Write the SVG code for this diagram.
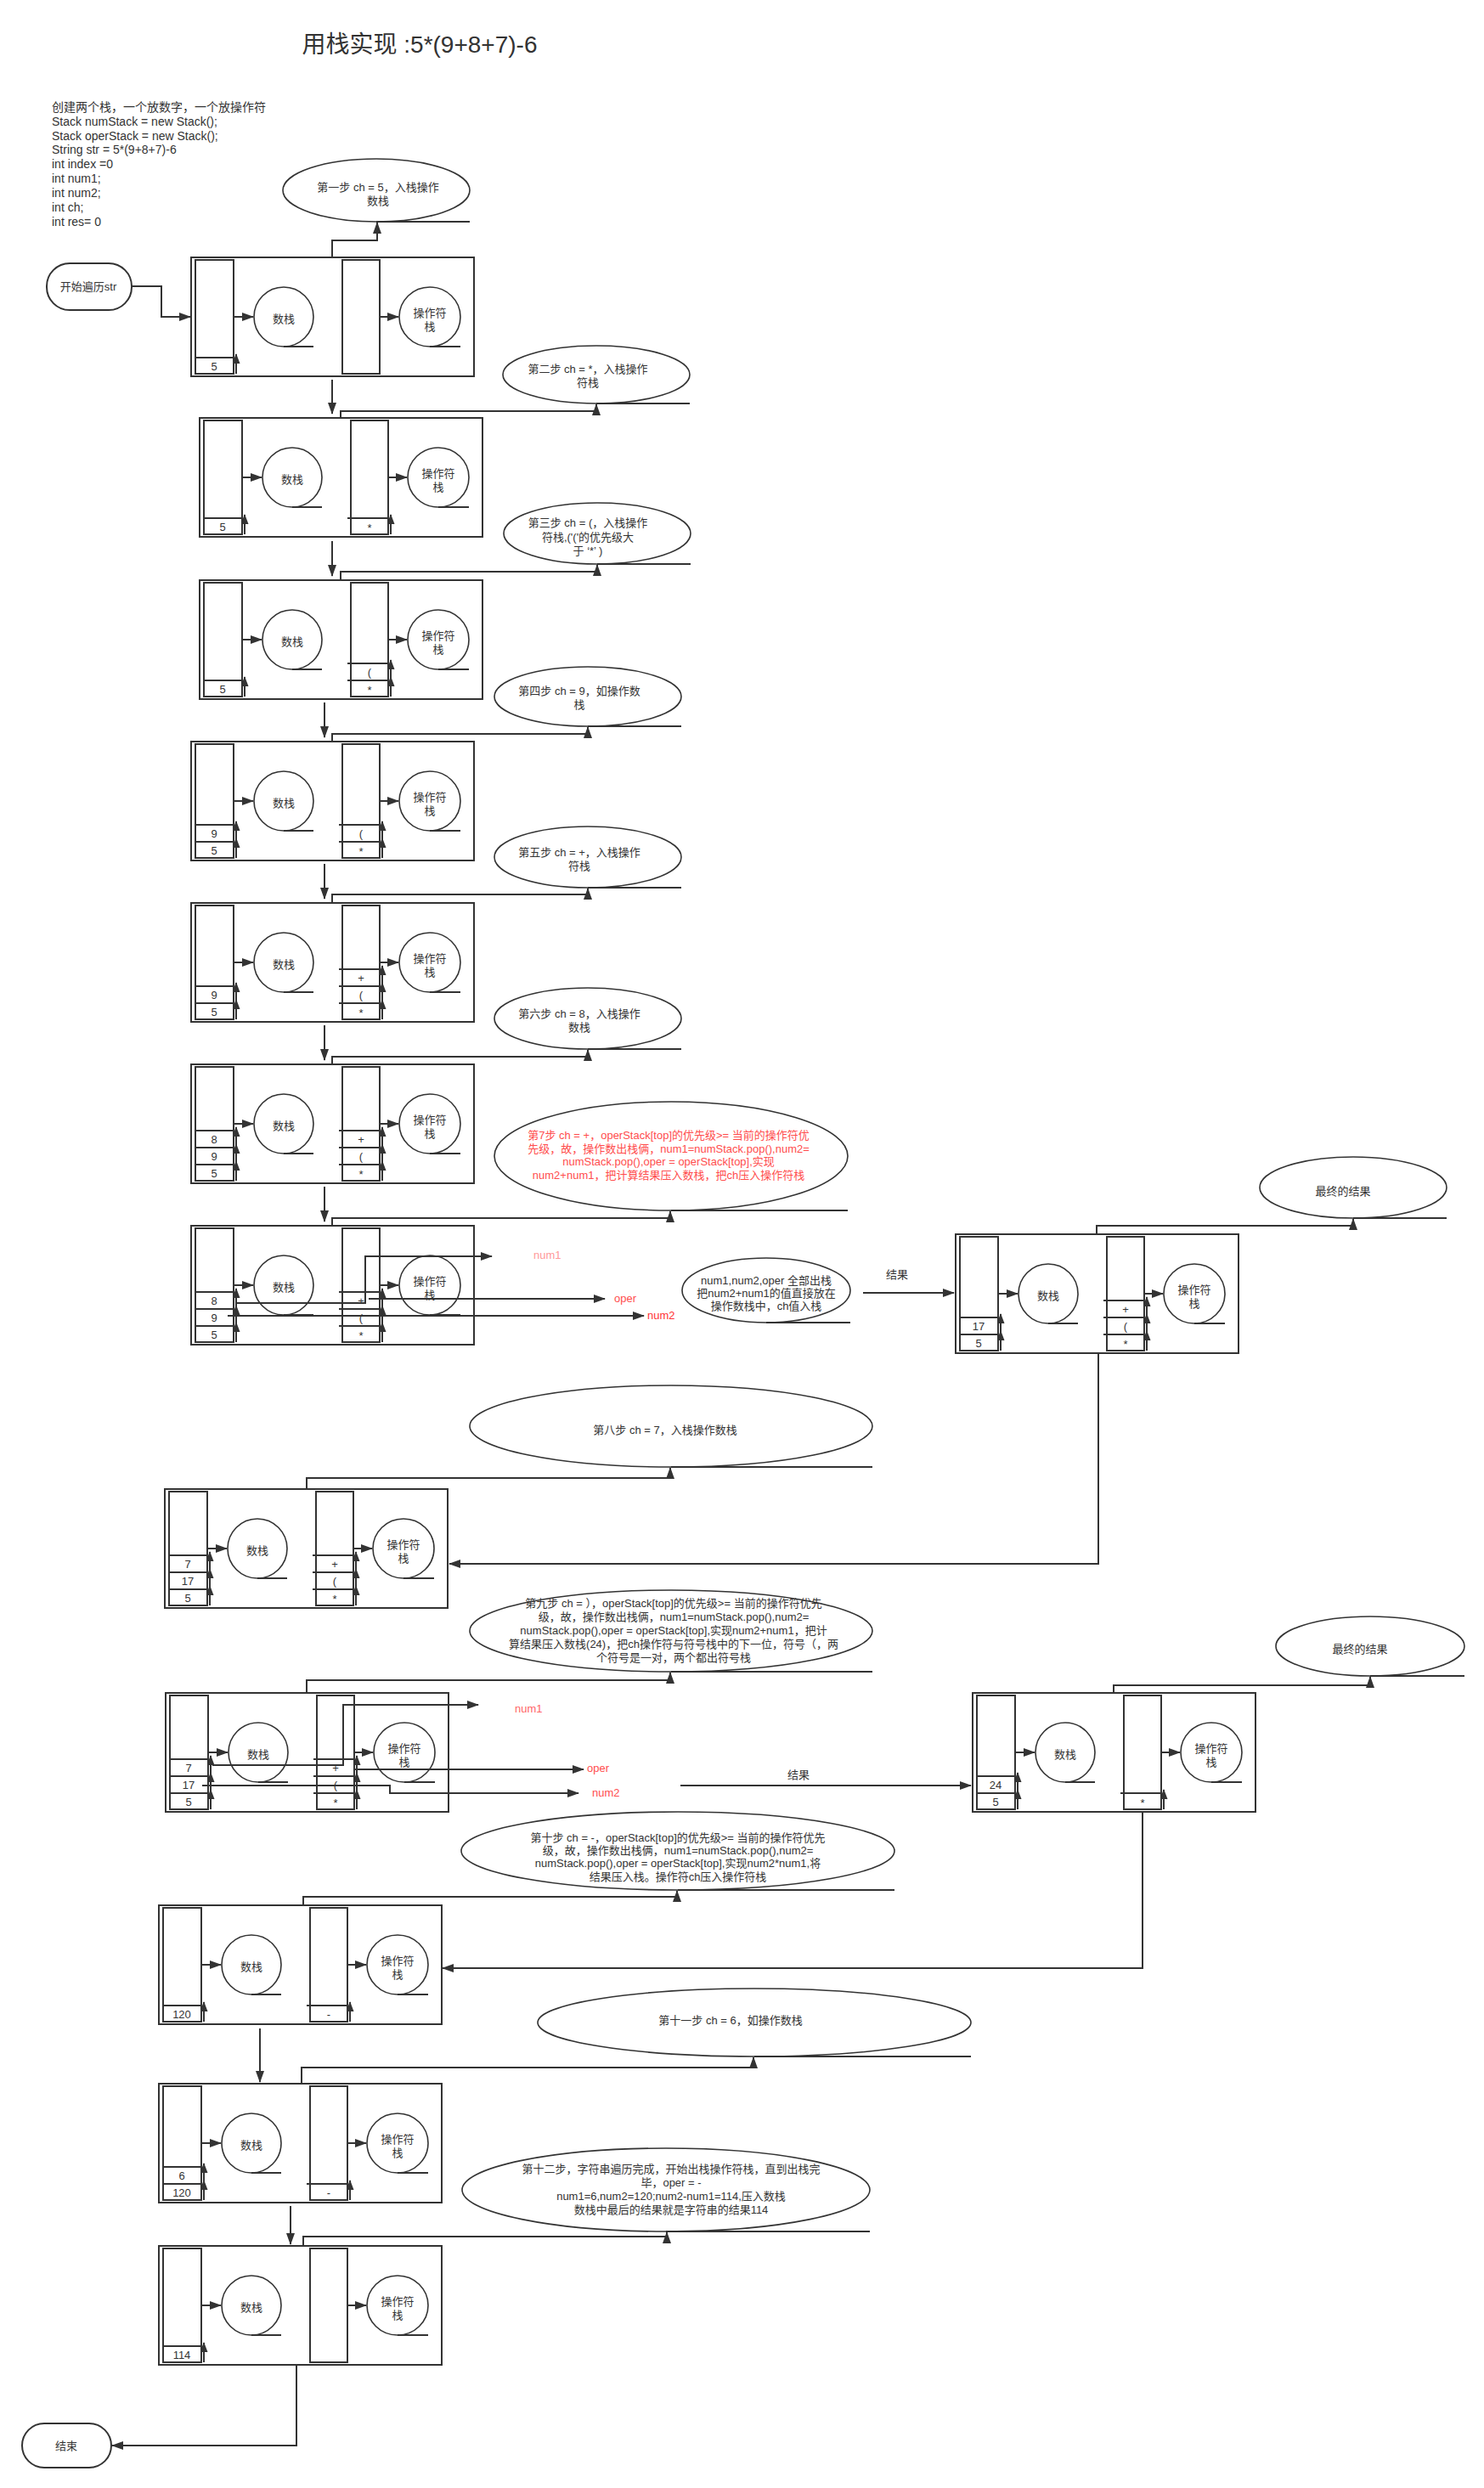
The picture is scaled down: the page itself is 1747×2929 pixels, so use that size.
<svg xmlns="http://www.w3.org/2000/svg" xmlns:xlink="http://www.w3.org/1999/xlink" width="1747" height="2929" viewBox="0 0 1747 2929">
<style>
.b{fill:#fff;stroke:#333;stroke-width:2}
.c{fill:#fff;stroke:#333;stroke-width:2}
.e{fill:#fff;stroke:#333;stroke-width:1.6}
.l{fill:none;stroke:#333;stroke-width:2}
.t{font-family:"Liberation Sans","Noto Sans CJK SC",sans-serif;font-size:13px;fill:#333;text-anchor:middle;dominant-baseline:central}
.ts{font-family:"Liberation Sans","Noto Sans CJK SC",sans-serif;font-size:13px;fill:#333;text-anchor:start;dominant-baseline:central}
.code{font-family:"Liberation Sans","Noto Sans CJK SC",sans-serif;font-size:14px;fill:#333;dominant-baseline:central}
.red{fill:#FF4D4D}
</style>
<defs>
<marker id="ah" markerUnits="userSpaceOnUse" markerWidth="14" markerHeight="10" refX="13" refY="5" orient="auto"><path d="M0,0 L14,5 L0,10 z" fill="#333"/></marker>
<marker id="as" markerUnits="userSpaceOnUse" markerWidth="12" markerHeight="9" refX="11" refY="4.5" orient="auto"><path d="M0,0 L12,4.5 L0,9 z" fill="#333"/></marker>
<g id="frame">
<rect class="b" x="0" y="0" width="333" height="140"/>
<rect class="c" x="5" y="3" width="45" height="134"/>
<rect class="c" x="178" y="3" width="44" height="134"/>
<path class="l" d="M50,70 H73" marker-end="url(#ah)"/>
<path class="l" d="M222,70 H244" marker-end="url(#ah)"/>
<ellipse class="e" cx="109" cy="70" rx="35" ry="35"/>
<path class="l" d="M109,105 H144"/>
<ellipse class="e" cx="281" cy="70" rx="36" ry="35"/>
<path class="l" d="M281,105 H317"/>
<text class="t" x="109" y="72">数栈</text>
<text class="t" x="281" y="65">操作符</text>
<text class="t" x="281" y="81">栈</text>
</g>
<g id="n0"><rect class="c" x="5" y="118" width="45" height="19"/><path class="l" d="M53,137 V114" marker-end="url(#as)"/></g>
<g id="n1"><rect class="c" x="5" y="98" width="45" height="20"/><path class="l" d="M53,118 V94" marker-end="url(#as)"/></g>
<g id="n2"><rect class="c" x="5" y="78" width="45" height="20"/><path class="l" d="M53,98 V74" marker-end="url(#as)"/></g>
<g id="o0"><rect class="c" x="178" y="118" width="44" height="19"/><path class="l" d="M174,118 H178"/><path class="l" d="M225,137 V114" marker-end="url(#as)"/></g>
<g id="o1"><rect class="c" x="178" y="98" width="44" height="20"/><path class="l" d="M174,98 H178"/><path class="l" d="M225,118 V94" marker-end="url(#as)"/></g>
<g id="o2"><rect class="c" x="178" y="78" width="44" height="20"/><path class="l" d="M174,78 H178"/><path class="l" d="M225,98 V74" marker-end="url(#as)"/></g>
</defs>
<rect x="0" y="0" width="1747" height="2929" fill="#fff"/>

<g id="title"><text class="t" x="494" y="52" style="font-size:28px">用栈实现 :5*(9+8+7)-6</text></g>
<g id="code">
<text class="code" x="61" y="126">创建两个栈，一个放数字，一个放操作符</text>
<text class="code" x="61" y="143">Stack numStack = new Stack();</text>
<text class="code" x="61" y="160">Stack operStack = new Stack();</text>
<text class="code" x="61" y="176">String str = 5*(9+8+7)-6</text>
<text class="code" x="61" y="193">int index =0</text>
<text class="code" x="61" y="210">int num1;</text>
<text class="code" x="61" y="227">int num2;</text>
<text class="code" x="61" y="244">int ch;</text>
<text class="code" x="61" y="261">int res= 0</text>
</g>

<g id="start"><rect class="b" x="55" y="310" width="100" height="55" rx="27" ry="27"/><text class="t" x="104" y="337">开始遍历str</text></g>
<g id="end"><rect class="b" x="26" y="2853" width="105" height="52" rx="26" ry="26"/><text class="t" x="78" y="2879">结束</text></g>

<g id="step1"><ellipse class="e" cx="443" cy="224" rx="110" ry="37"/><path class="l" d="M443,261 H553"/><text class="t" x="445" y="220">第一步 ch = 5，入栈操作</text><text class="t" x="445" y="236">数栈</text></g>
<g id="step2"><ellipse class="e" cx="702" cy="441" rx="110" ry="34"/><path class="l" d="M702,475 H812"/><text class="t" x="692" y="434">第二步 ch = *，入栈操作</text><text class="t" x="692" y="450">符栈</text></g>
<g id="step3"><ellipse class="e" cx="703" cy="628" rx="110" ry="36"/><path class="l" d="M703,664 H813"/><text class="t" x="692" y="615">第三步 ch = (，入栈操作</text><text class="t" x="692" y="632">符栈,('('的优先级大</text><text class="t" x="692" y="648">于  ‘*’  )</text></g>
<g id="step4"><ellipse class="e" cx="692" cy="820" rx="110" ry="35"/><path class="l" d="M692,855 H802"/><text class="t" x="682" y="813">第四步 ch = 9，如操作数</text><text class="t" x="682" y="829">栈</text></g>
<g id="step5"><ellipse class="e" cx="692" cy="1009" rx="110" ry="36"/><path class="l" d="M692,1045 H802"/><text class="t" x="682" y="1003">第五步 ch = +，入栈操作</text><text class="t" x="682" y="1019">符栈</text></g>
<g id="step6"><ellipse class="e" cx="692" cy="1199" rx="110" ry="36"/><path class="l" d="M692,1235 H802"/><text class="t" x="682" y="1193">第六步 ch = 8，入栈操作</text><text class="t" x="682" y="1209">数栈</text></g>
<g id="step7"><ellipse class="e" cx="790" cy="1361" rx="208" ry="64"/><path class="l" d="M790,1425 H998"/>
<text class="t red" x="787" y="1336">第7步 ch = +，operStack[top]的优先级&gt;= 当前的操作符优</text>
<text class="t red" x="787" y="1352">先级，故，操作数出栈俩，num1=numStack.pop(),num2=</text>
<text class="t red" x="787" y="1367">numStack.pop(),oper = operStack[top],实现</text>
<text class="t red" x="787" y="1383">num2+num1，把计算结果压入数栈，把ch压入操作符栈</text></g>
<g id="explain"><ellipse class="e" cx="902" cy="1519" rx="99" ry="38"/><path class="l" d="M902,1557 H1001"/><text class="t" x="902" y="1507">num1,num2,oper 全部出栈</text><text class="t" x="902" y="1522">把num2+num1的值直接放在</text><text class="t" x="902" y="1537">操作数栈中，ch值入栈</text></g>
<g id="final1"><ellipse class="e" cx="1593" cy="1398" rx="110" ry="36"/><path class="l" d="M1593,1434 H1703"/><text class="t" x="1581" y="1402">最终的结果</text></g>
<g id="step8"><ellipse class="e" cx="790" cy="1679" rx="237" ry="48"/><path class="l" d="M790,1727 H1027"/><text class="t" x="783" y="1683">第八步 ch = 7，入栈操作数栈</text></g>
<g id="step9"><ellipse class="e" cx="790" cy="1920" rx="237" ry="48"/><path class="l" d="M790,1968 H1027"/>
<text class="t" x="793" y="1887">第九步 ch = ），operStack[top]的优先级&gt;= 当前的操作符优先</text>
<text class="t" x="793" y="1903">级，故，操作数出栈俩，num1=numStack.pop(),num2=</text>
<text class="t" x="793" y="1919">numStack.pop(),oper = operStack[top],实现num2+num1，把计</text>
<text class="t" x="793" y="1935">算结果压入数栈(24)，把ch操作符与符号栈中的下一位，符号（，两</text>
<text class="t" x="793" y="1951">个符号是一对，两个都出符号栈</text></g>
<g id="final2"><ellipse class="e" cx="1613" cy="1938" rx="111" ry="35"/><path class="l" d="M1613,1973 H1724"/><text class="t" x="1601" y="1941">最终的结果</text></g>
<g id="step10"><ellipse class="e" cx="798" cy="2179" rx="255" ry="46"/><path class="l" d="M798,2225 H1053"/>
<text class="t" x="798" y="2163">第十步 ch = -，operStack[top]的优先级&gt;= 当前的操作符优先</text>
<text class="t" x="798" y="2178">级，故，操作数出栈俩，num1=numStack.pop(),num2=</text>
<text class="t" x="798" y="2193">numStack.pop(),oper = operStack[top],实现num2*num1,将</text>
<text class="t" x="798" y="2209">结果压入栈。操作符ch压入操作符栈</text></g>
<g id="step11"><ellipse class="e" cx="888" cy="2381" rx="255" ry="40"/><path class="l" d="M888,2421 H1143"/><text class="t" x="860" y="2378">第十一步 ch = 6，如操作数栈</text></g>
<g id="step12"><ellipse class="e" cx="784" cy="2578" rx="240" ry="49"/><path class="l" d="M784,2627 H1024"/>
<text class="t" x="790" y="2553">第十二步，字符串遍历完成，开始出栈操作符栈，直到出栈完</text>
<text class="t" x="790" y="2569">毕，oper = -</text>
<text class="t" x="790" y="2585">num1=6,num2=120;num2-num1=114,压入数栈</text>
<text class="t" x="790" y="2601">数栈中最后的结果就是字符串的结果114</text></g>

<g id="box1" transform="translate(225,303)"><use xlink:href="#frame"/><use xlink:href="#n0"/><text class="t" x="27" y="128">5</text></g>
<g id="box2" transform="translate(235,492)"><use xlink:href="#frame"/><use xlink:href="#n0"/><text class="t" x="27" y="128">5</text><use xlink:href="#o0"/><text class="t" x="200" y="129">*</text></g>
<g id="box3" transform="translate(235,683)"><use xlink:href="#frame"/><use xlink:href="#n0"/><text class="t" x="27" y="128">5</text><use xlink:href="#o0"/><text class="t" x="200" y="129">*</text><use xlink:href="#o1"/><text class="t" x="200" y="108">(</text></g>
<g id="box4" transform="translate(225,873)"><use xlink:href="#frame"/><use xlink:href="#n0"/><text class="t" x="27" y="128">5</text><use xlink:href="#n1"/><text class="t" x="27" y="108">9</text><use xlink:href="#o0"/><text class="t" x="200" y="129">*</text><use xlink:href="#o1"/><text class="t" x="200" y="108">(</text></g>
<g id="box5" transform="translate(225,1063)"><use xlink:href="#frame"/><use xlink:href="#n0"/><text class="t" x="27" y="128">5</text><use xlink:href="#n1"/><text class="t" x="27" y="108">9</text><use xlink:href="#o0"/><text class="t" x="200" y="129">*</text><use xlink:href="#o1"/><text class="t" x="200" y="108">(</text><use xlink:href="#o2"/><text class="t" x="200" y="88">+</text></g>
<g id="box6" transform="translate(225,1253)"><use xlink:href="#frame"/><use xlink:href="#n0"/><text class="t" x="27" y="128">5</text><use xlink:href="#n1"/><text class="t" x="27" y="108">9</text><use xlink:href="#n2"/><text class="t" x="27" y="88">8</text><use xlink:href="#o0"/><text class="t" x="200" y="129">*</text><use xlink:href="#o1"/><text class="t" x="200" y="108">(</text><use xlink:href="#o2"/><text class="t" x="200" y="88">+</text></g>
<g id="box7" transform="translate(225,1443)"><use xlink:href="#frame"/><use xlink:href="#n0"/><text class="t" x="27" y="128">5</text><use xlink:href="#n1"/><text class="t" x="27" y="108">9</text><use xlink:href="#n2"/><text class="t" x="27" y="88">8</text><use xlink:href="#o0"/><text class="t" x="200" y="129">*</text><use xlink:href="#o1"/><text class="t" x="200" y="108">(</text><use xlink:href="#o2"/><text class="t" x="200" y="88">+</text></g>
<g id="result1" transform="translate(1125,1453)"><use xlink:href="#frame"/><use xlink:href="#n0"/><text class="t" x="27" y="128">5</text><use xlink:href="#n1"/><text class="t" x="27" y="108">17</text><use xlink:href="#o0"/><text class="t" x="200" y="129">*</text><use xlink:href="#o1"/><text class="t" x="200" y="108">(</text><use xlink:href="#o2"/><text class="t" x="200" y="88">+</text></g>
<g id="box8" transform="translate(194,1753)"><use xlink:href="#frame"/><use xlink:href="#n0"/><text class="t" x="27" y="128">5</text><use xlink:href="#n1"/><text class="t" x="27" y="108">17</text><use xlink:href="#n2"/><text class="t" x="27" y="88">7</text><use xlink:href="#o0"/><text class="t" x="200" y="129">*</text><use xlink:href="#o1"/><text class="t" x="200" y="108">(</text><use xlink:href="#o2"/><text class="t" x="200" y="88">+</text></g>
<g id="box9" transform="translate(195,1993)"><use xlink:href="#frame"/><use xlink:href="#n0"/><text class="t" x="27" y="128">5</text><use xlink:href="#n1"/><text class="t" x="27" y="108">17</text><use xlink:href="#n2"/><text class="t" x="27" y="88">7</text><use xlink:href="#o0"/><text class="t" x="200" y="129">*</text><use xlink:href="#o1"/><text class="t" x="200" y="108">(</text><use xlink:href="#o2"/><text class="t" x="200" y="88">+</text></g>
<g id="result2" transform="translate(1145,1993)"><use xlink:href="#frame"/><use xlink:href="#n0"/><text class="t" x="27" y="128">5</text><use xlink:href="#n1"/><text class="t" x="27" y="108">24</text><use xlink:href="#o0"/><text class="t" x="200" y="129">*</text></g>
<g id="box10" transform="translate(187,2243)"><use xlink:href="#frame"/><use xlink:href="#n0"/><text class="t" x="27" y="128">120</text><use xlink:href="#o0"/><text class="t" x="200" y="128">-</text></g>
<g id="box11" transform="translate(187,2453)"><use xlink:href="#frame"/><use xlink:href="#n0"/><text class="t" x="27" y="128">120</text><use xlink:href="#n1"/><text class="t" x="27" y="108">6</text><use xlink:href="#o0"/><text class="t" x="200" y="128">-</text></g>
<g id="box12" transform="translate(187,2644)"><use xlink:href="#frame"/><use xlink:href="#n0"/><text class="t" x="27" y="128">114</text></g>

<g id="connectors">
<path class="l" d="M155,337 H190 V373 H224" marker-end="url(#ah)"/>
<path class="l" d="M391,303 V283 H444 V262" marker-end="url(#ah)"/>
<path class="l" d="M391,447 V487" marker-end="url(#ah)"/>
<path class="l" d="M401,492 V484 H702 V476" marker-end="url(#ah)"/>
<path class="l" d="M391,637 V678" marker-end="url(#ah)"/>
<path class="l" d="M401,683 V673 H703 V665" marker-end="url(#ah)"/>
<path class="l" d="M382,827 V868" marker-end="url(#ah)"/>
<path class="l" d="M391,873 V864 H692 V856" marker-end="url(#ah)"/>
<path class="l" d="M382,1017 V1058" marker-end="url(#ah)"/>
<path class="l" d="M391,1063 V1053 H692 V1046" marker-end="url(#ah)"/>
<path class="l" d="M382,1207 V1248" marker-end="url(#ah)"/>
<path class="l" d="M391,1253 V1244 H692 V1236" marker-end="url(#ah)"/>
<path class="l" d="M382,1397 V1438" marker-end="url(#ah)"/>
<path class="l" d="M391,1443 V1434 H789 V1426" marker-end="url(#ah)"/>
<path class="l" d="M279,1534 H430 V1479 H579" marker-end="url(#ah)"/>
<path class="l" d="M434,1529 H712" marker-end="url(#ah)"/>
<path class="l" d="M268,1549 H758" marker-end="url(#ah)"/>
<path class="l" d="M1016,1522 H1123" marker-end="url(#ah)"/>
<path class="l" d="M1291,1453 V1443 H1593 V1435" marker-end="url(#ah)"/>
<path class="l" d="M1293,1593 V1841 H529" marker-end="url(#ah)"/>
<path class="l" d="M361,1753 V1740 H789 V1728" marker-end="url(#ah)"/>
<path class="l" d="M361,1993 V1978 H789 V1969" marker-end="url(#ah)"/>
<path class="l" d="M250,2078 H404 V2007 H563" marker-end="url(#ah)"/>
<path class="l" d="M418,2083 H687" marker-end="url(#ah)"/>
<path class="l" d="M238,2102 H459 V2111 H681" marker-end="url(#ah)"/>
<path class="l" d="M801,2102 H1143" marker-end="url(#ah)"/>
<path class="l" d="M1311,1993 V1984 H1613 V1974" marker-end="url(#ah)"/>
<path class="l" d="M1345,2133 V2317 H521" marker-end="url(#ah)"/>
<path class="l" d="M357,2243 V2233 H797 V2226" marker-end="url(#ah)"/>
<path class="l" d="M306,2388 V2451" marker-end="url(#ah)"/>
<path class="l" d="M355,2453 V2434 H887 V2422" marker-end="url(#ah)"/>
<path class="l" d="M342,2597 V2642" marker-end="url(#ah)"/>
<path class="l" d="M357,2644 V2633 H785 V2628" marker-end="url(#ah)"/>
<path class="l" d="M349,2784 V2879 H132" marker-end="url(#ah)"/>
<text class="ts" x="628" y="1477" style="fill:#FF9999">num1</text>
<text class="ts" x="723" y="1528" style="fill:#FF4D4D">oper</text>
<text class="ts" x="762" y="1548" style="fill:#FF3333">num2</text>
<text class="ts" x="606" y="2011" style="fill:#FF6666">num1</text>
<text class="ts" x="691" y="2081" style="fill:#FF4D4D">oper</text>
<text class="ts" x="697" y="2110" style="fill:#FF4D4D">num2</text>
<text class="t" x="1056" y="1500">结果</text>
<text class="t" x="940" y="2089">结果</text>
</g>
</svg>
